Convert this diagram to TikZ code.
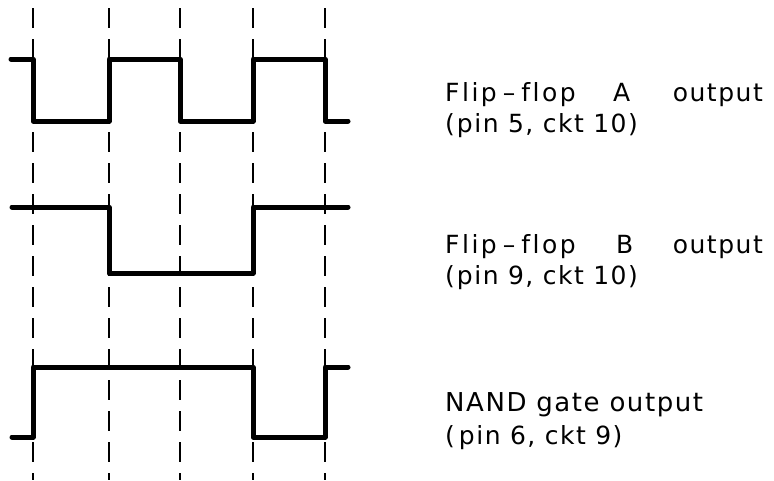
\documentclass[tikz,border=0pt]{standalone}
\usepackage{fontspec}
\setmainfont{DejaVu Sans}[LetterSpace=6,Ligatures=NoCommon]
\newfontfamily\widefont{DejaVu Sans}[LetterSpace=10,Ligatures=NoCommon]
\begin{document}
\begin{tikzpicture}[x=1pt,y=-1pt,
  wave/.style={line width=5pt,line join=round,line cap=round},
  grid/.style={line width=2.8pt,dash pattern=on 20pt off 11pt},
  lbl/.style={anchor=base west,inner sep=0pt,font=\fontsize{25}{30}\selectfont},
  lble/.style={lbl,anchor=base east},
  ffl/.style={lbl,font=\fontsize{25}{30}\selectfont\widefont}]
\useasboundingbox (0,0) rectangle (774,480);
\foreach \x in {33,109,180,253,325}{\draw[grid] (\x,8) -- (\x,480);}
% Flip-flop A
\draw[wave] (11,59) -- (33,59) -- (33,121) -- (109,121) -- (109,59) -- (180,59) -- (180,121) -- (253,121) -- (253,59) -- (325,59) -- (325,121) -- (348,121);
% Flip-flop B
\draw[wave] (12,207) -- (109,207) -- (109,273) -- (253,273) -- (253,207) -- (348,207);
% NAND
\draw[wave] (12,437) -- (33,437) -- (33,367) -- (253,367) -- (253,437) -- (325,437) -- (325,367) -- (348,367);
\node[ffl] (a1) at (445,101) {Flip\hspace{6pt}–\hspace{6pt}flop};
\node[lbl] (a1x) at (613,101) {A};
\node[lble] (a1o) at (763,101) {output};
\node[lbl] (a2) at (445,132) {(\hspace{2pt}pin 5, ckt 10)};
\node[ffl] (b1) at (445,253) {Flip\hspace{6pt}–\hspace{6pt}flop};
\node[lbl] (b1x) at (616,253) {B};
\node[lble] (b1o) at (763,253) {output};
\node[lbl] (b2) at (445,284) {(\hspace{2pt}pin 9, ckt 10)};
\node[lbl,font=\fontsize{26}{30}\selectfont] (c1) at (445,411) {NAND gate output};
\node[lbl] (c2) at (445,444) {(\hspace{4pt}pin 6, ckt 9)};
\end{tikzpicture}
\end{document}
